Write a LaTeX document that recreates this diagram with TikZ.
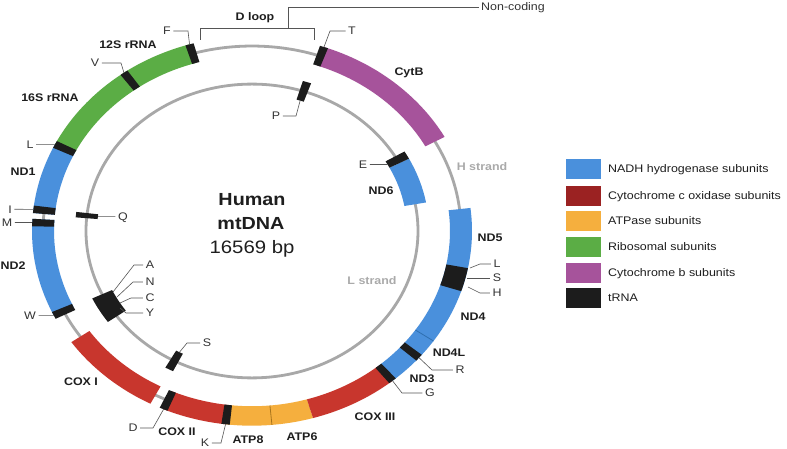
\documentclass[tikz,border=0pt]{standalone}
\usepackage{fontspec}
\setmainfont[FakeStretch=1.13]{Liberation Sans}
\definecolor{nadh}{HTML}{4A90DC}
\definecolor{nadhdark}{HTML}{2F6FB0}
\definecolor{coxred}{HTML}{C8362D}
\definecolor{coxleg}{HTML}{9B2222}
\definecolor{atp}{HTML}{F5AF3E}
\definecolor{atpdark}{HTML}{A8741C}
\definecolor{ribo}{HTML}{5BAD45}
\definecolor{cytb}{HTML}{A6539B}
\definecolor{trnac}{HTML}{1C1C1C}
\definecolor{ringgray}{HTML}{A8A8A8}
\definecolor{strandgray}{HTML}{AAAAAA}
\definecolor{leadgray}{HTML}{555555}
\definecolor{txt}{HTML}{1E1E1E}
\definecolor{lettergray}{HTML}{333333}
\newcommand{\geneband}[5]{\fill[#5] (#1:#3) arc[start angle=#1, end angle=#2, radius=#3] -- (#2:#4) arc[start angle=#2, end angle=#1, radius=#4] -- cycle;}
\tikzset{
  gene/.style={font=\fontsize{11}{13}\selectfont\bfseries, text=txt, inner sep=0pt, text height=7.9pt, text depth=0pt},
  trna/.style={font=\fontsize{11}{13}\selectfont, text=lettergray, inner sep=0pt, text height=7.9pt, text depth=0pt},
  strand/.style={gene, text=strandgray},
  lead/.style={draw=leadgray, line width=0.6pt},
  ringline/.style={draw=ringgray, line width=2.8pt},
  legbox/.style={minimum width=35pt, minimum height=20pt, inner sep=0pt},
  legtext/.style={font=\fontsize{11}{13}\selectfont, text=txt, inner sep=0pt, anchor=west, text height=7.9pt, text depth=0pt},
  big/.style={font=\fontsize{17.5}{20}\selectfont\bfseries, text=txt, inner sep=0pt, text height=12.5pt, text depth=0pt}
}
\begin{document}
\begin{tikzpicture}[x=1pt,y=1pt]
\useasboundingbox (0,0) rectangle (787,-449);
\fill[white] (0,0) rectangle (787,-449);

\begin{scope}[shift={(252,-231)}, yscale=0.885]
  \draw[ringline] (0,0) circle[radius=209];
  \draw[ringline] (0,0) circle[radius=166];
  % outer ring genes
  \geneband{106.5}{153.6}{220}{198}{ribo}
  \geneband{153.6}{174.7}{220}{198}{nadh}
  \geneband{176.4}{205.7}{220}{198}{nadh}
  \geneband{214.8}{242.5}{220}{198}{coxred}
  \geneband{246.3}{263.1}{220}{198}{coxred}
  \geneband{263.1}{286.1}{220}{198}{atp}
  \geneband{286.1}{309.7}{220}{198}{coxred}
  \geneband{309.7}{366.8}{220}{198}{nadh}
  \geneband{28.9}{70.9}{220}{198}{cytb}
  \draw[atpdark, line width=0.8pt] (275.2:198) -- (275.2:220);
  \draw[nadhdark, line width=0.8pt] (325.6:198) -- (325.6:220);
  % outer tRNA
  \geneband{105.4}{107.6}{220}{198}{trnac}
  \geneband{124.5}{126.7}{220}{198}{trnac}
  \geneband{152.5}{154.7}{220}{198}{trnac}
  \geneband{172.5}{174.7}{220}{198}{trnac}
  \geneband{176.4}{178.6}{220}{198}{trnac}
  \geneband{204.6}{206.8}{220}{198}{trnac}
  \geneband{245.2}{247.4}{220}{198}{trnac}
  \geneband{262.0}{264.2}{220}{198}{trnac}
  \geneband{308.6}{310.8}{220}{198}{trnac}
  \geneband{318.3}{320.5}{220}{198}{trnac}
  \geneband{342}{349}{220}{198}{trnac}
  \geneband{69.8}{72.0}{220}{198}{trnac}
  % inner ring
  \geneband{10.5}{27.5}{177}{155}{nadh}
  \geneband{27.5}{30.5}{177}{155}{trnac}
  \geneband{70.5}{73.3}{177}{155}{trnac}
  \geneband{173}{175}{177}{155}{trnac}
  \geneband{205.5}{215.5}{177}{155}{trnac}
  \geneband{240.7}{243.5}{177}{155}{trnac}
  % anchor points for leaders
  \coordinate (Fo) at (106.5:220);
  \coordinate (Vo) at (125.6:220);
  \coordinate (Lo) at (153.6:220);
  \coordinate (Io) at (173.6:220);
  \coordinate (Mo) at (177.5:220);
  \coordinate (Wo) at (205.7:220);
  \coordinate (Do) at (246.3:220);
  \coordinate (Ko) at (263.1:220);
  \coordinate (Go) at (309.7:220);
  \coordinate (Ro) at (319.4:220);
  \coordinate (To) at (70.9:220);
  \coordinate (Pi) at (71.9:155);
  \coordinate (Ei) at (29:155);
  \coordinate (Qi) at (174:155);
  \coordinate (Si) at (242.1:155);
\end{scope}

% D loop bracket
\coordinate (dl1) at (200,-40);
\coordinate (dl2) at (200,-28);
\coordinate (dl3) at (314,-28);
\coordinate (dl4) at (314,-40);
\coordinate (dlm) at (288,-28);
\coordinate (dlt) at (288,-7);
\draw[lead, line width=0.7pt] (dl1) -- (dl2) -- (dl3) -- (dl4);
\node[gene] (dloop) at (255,-17) {D loop};
\node[trna, anchor=west] (noncoding) at (481,-7) {Non-coding};
\draw[lead, line width=0.7pt] (dlm) -- (dlt) -- ([xshift=-2pt]noncoding.west);

% gene labels
\node[gene] (g12s) at (128,-45) {12S rRNA};
\node[gene] (g16s) at (50,-98) {16S rRNA};
\node[gene] (gnd1) at (23,-172) {ND1};
\node[gene] (gnd2) at (13,-266) {ND2};
\node[gene] (gcox1) at (81,-382) {COX I};
\node[gene] (gcox2) at (177,-432) {COX II};
\node[gene] (gatp8) at (248,-440) {ATP8};
\node[gene] (gatp6) at (302,-437) {ATP6};
\node[gene] (gcox3) at (375,-417) {COX III};
\node[gene] (gnd3) at (422,-379) {ND3};
\node[gene] (gnd4l) at (449,-353) {ND4L};
\node[gene] (gnd4) at (473,-317) {ND4};
\node[gene] (gnd5) at (490,-238) {ND5};
\node[gene] (gnd6) at (381,-191) {ND6};
\node[gene] (gcytb) at (409,-72) {CytB};
\node[strand] (hstr) at (482,-167) {H strand};
\node[strand] (lstr) at (372,-281) {L strand};

% centre title
\node[big] (t1) at (252,-199) {Human};
\node[big] (t2) at (251,-223) {mtDNA};
\node[big, font=\fontsize{18}{20}\selectfont] (t3) at (252,-247) {16569 bp};

% tRNA labels and leaders
\node[trna] (lF) at (167,-31) {F};
\coordinate (eF) at (188,-31);
\draw[lead] ([xshift=2.5pt]lF.east) -- (eF) -- (Fo);
\node[trna] (lV) at (95,-63) {V};
\coordinate (eV) at (121,-63);
\draw[lead] ([xshift=2.5pt]lV.east) -- (eV) -- (Vo);
\node[trna] (lL) at (30,-144.4) {L};
\draw[lead] ([xshift=2.5pt]lL.east) -- (Lo);
\node[trna] (lI) at (10,-209.3) {I};
\draw[lead] ([xshift=2.5pt]lI.east) -- (Io);
\node[trna] (lM) at (7,-222.5) {M};
\draw[lead] ([xshift=2.5pt]lM.east) -- (Mo);
\node[trna] (lW) at (30,-315.4) {W};
\draw[lead] ([xshift=2.5pt]lW.east) -- (Wo);
\node[trna] (lD) at (133,-428) {D};
\coordinate (eD) at (153,-428);
\draw[lead] ([xshift=2.5pt]lD.east) -- (eD) -- (Do);
\node[trna] (lK) at (205,-443) {K};
\coordinate (eK) at (221,-443);
\draw[lead] ([xshift=2.5pt]lK.east) -- (eK) -- (Ko);
\node[trna] (lG) at (430,-393) {G};
\coordinate (eG) at (402,-393);
\draw[lead] (Go) -- (eG) -- ([xshift=-2.5pt]lG.west);
\node[trna] (lR) at (460,-370) {R};
\coordinate (eR) at (432,-370);
\draw[lead] (Ro) -- (eR) -- ([xshift=-2.5pt]lR.west);
\node[trna] (lT) at (352,-31) {T};
\coordinate (eT) at (330,-31);
\draw[lead] (To) -- (eT) -- ([xshift=-2.5pt]lT.west);
% L S H cluster
\node[trna] (lL2) at (497,-264) {L};
\node[trna] (lS2) at (497,-278) {S};
\node[trna] (lH) at (497,-293) {H};
\coordinate (sL) at (470,-268);
\coordinate (eL2) at (480,-264);
\coordinate (sS) at (467,-278);
\coordinate (sH) at (468,-287);
\coordinate (eH) at (480,-293);
\draw[lead] (sL) -- (eL2) -- ([xshift=-2.5pt]lL2.west);
\draw[lead] (sS) -- ([xshift=-2.5pt]lS2.west);
\draw[lead] (sH) -- (eH) -- ([xshift=-2.5pt]lH.west);
% inner ring labels
\node[trna] (lP) at (276,-116) {P};
\coordinate (eP) at (296,-116);
\draw[lead] ([xshift=2.5pt]lP.east) -- (eP) -- (Pi);
\node[trna] (lE) at (363,-164.5) {E};
\draw[lead] ([xshift=2.5pt]lE.east) -- (Ei);
\node[trna] (lQ) at (123,-216.7) {Q};
\draw[lead] (Qi) -- ([xshift=-2.5pt]lQ.west);
\node[trna] (lS) at (207,-343) {S};
\coordinate (eS) at (187,-343);
\draw[lead] (Si) -- (eS) -- ([xshift=-2.5pt]lS.west);
% A N C Y cluster
\node[trna] (lA) at (150,-265) {A};
\node[trna] (lN) at (150,-282) {N};
\node[trna] (lC) at (150,-298) {C};
\node[trna] (lY) at (150,-313) {Y};
\coordinate (sA) at (113,-292);
\coordinate (eA) at (134,-265);
\coordinate (sN) at (117,-297);
\coordinate (eN) at (133,-282);
\coordinate (sC) at (120,-303);
\coordinate (eC) at (131,-298);
\coordinate (sY) at (120,-308);
\coordinate (eY) at (126,-313);
\draw[lead] (sA) -- (eA) -- ([xshift=-2.5pt]lA.west);
\draw[lead] (sN) -- (eN) -- ([xshift=-2.5pt]lN.west);
\draw[lead] (sC) -- (eC) -- ([xshift=-2.5pt]lC.west);
\draw[lead] (sY) -- (eY) -- ([xshift=-2.5pt]lY.west);

% legend
\node[legbox, fill=nadh] (k1) at (583.5,-169) {};
\node[legbox, fill=coxleg] (k2) at (583.5,-196) {};
\node[legbox, fill=atp] (k3) at (583.5,-221) {};
\node[legbox, fill=ribo] (k4) at (583.5,-247) {};
\node[legbox, fill=cytb] (k5) at (583.5,-273) {};
\node[legbox, fill=trnac] (k6) at (583.5,-298) {};
\node[legtext] (x1) at (608,-169) {NADH hydrogenase subunits};
\node[legtext] (x2) at (608,-196) {Cytochrome c oxidase subunits};
\node[legtext] (x3) at (608,-221) {ATPase subunits};
\node[legtext] (x4) at (608,-247) {Ribosomal subunits};
\node[legtext] (x5) at (608,-273) {Cytochrome b subunits};
\node[legtext] (x6) at (608,-298) {tRNA};
\end{tikzpicture}
\end{document}
